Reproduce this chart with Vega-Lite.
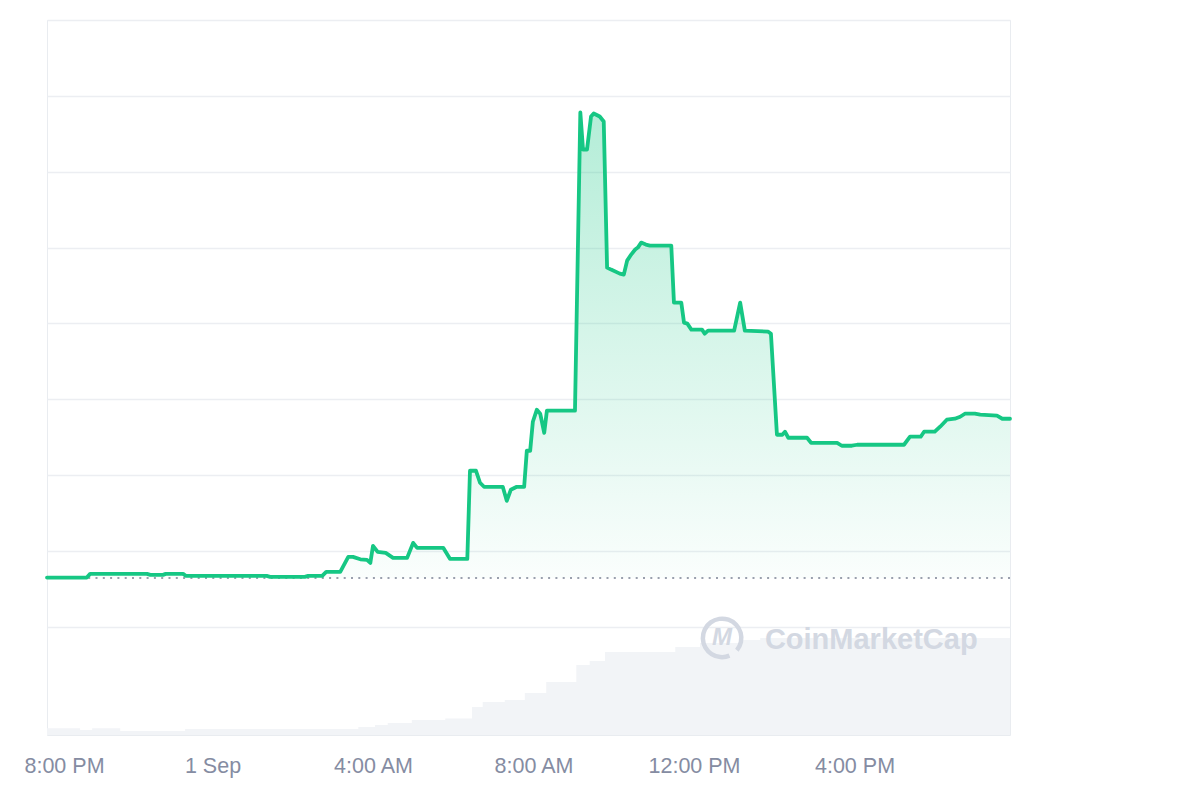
{
  "$schema": "https://vega.github.io/schema/vega-lite/v6.json",
  "width": 963,
  "height": 715,
  "autosize": {"type": "none"},
  "padding": {"left": 47, "top": 20, "right": 190, "bottom": 65},
  "background": "#ffffff",
  "config": {
    "view": {"stroke": "#e9ecf0", "strokeWidth": 1},
    "font": "Liberation Sans"
  },
  "datasets": {
    "price": [
      {"time": "2023-08-31T19:52:30Z", "price": 0.65},
      {"time": "2023-08-31T20:52:00Z", "price": 0.65},
      {"time": "2023-08-31T20:57:00Z", "price": 0.699},
      {"time": "2023-08-31T22:22:00Z", "price": 0.699},
      {"time": "2023-08-31T22:27:00Z", "price": 0.686},
      {"time": "2023-08-31T22:46:00Z", "price": 0.686},
      {"time": "2023-08-31T22:50:00Z", "price": 0.699},
      {"time": "2023-08-31T23:16:00Z", "price": 0.699},
      {"time": "2023-08-31T23:20:00Z", "price": 0.673},
      {"time": "2023-09-01T01:21:00Z", "price": 0.673},
      {"time": "2023-09-01T01:26:00Z", "price": 0.66},
      {"time": "2023-09-01T02:18:00Z", "price": 0.66},
      {"time": "2023-09-01T02:23:00Z", "price": 0.673},
      {"time": "2023-09-01T02:44:00Z", "price": 0.673},
      {"time": "2023-09-01T02:50:00Z", "price": 0.726},
      {"time": "2023-09-01T03:11:00Z", "price": 0.726},
      {"time": "2023-09-01T03:23:00Z", "price": 0.923},
      {"time": "2023-09-01T03:30:00Z", "price": 0.923},
      {"time": "2023-09-01T03:41:00Z", "price": 0.891},
      {"time": "2023-09-01T03:51:00Z", "price": 0.884},
      {"time": "2023-09-01T03:56:00Z", "price": 0.844},
      {"time": "2023-09-01T04:00:00Z", "price": 1.069},
      {"time": "2023-09-01T04:07:00Z", "price": 0.989},
      {"time": "2023-09-01T04:19:00Z", "price": 0.976},
      {"time": "2023-09-01T04:30:00Z", "price": 0.91},
      {"time": "2023-09-01T04:51:00Z", "price": 0.91},
      {"time": "2023-09-01T05:00:00Z", "price": 1.108},
      {"time": "2023-09-01T05:06:00Z", "price": 1.042},
      {"time": "2023-09-01T05:45:00Z", "price": 1.042},
      {"time": "2023-09-01T05:55:00Z", "price": 0.897},
      {"time": "2023-09-01T06:21:00Z", "price": 0.897},
      {"time": "2023-09-01T06:25:00Z", "price": 2.058},
      {"time": "2023-09-01T06:34:00Z", "price": 2.058},
      {"time": "2023-09-01T06:40:00Z", "price": 1.9},
      {"time": "2023-09-01T06:46:00Z", "price": 1.847},
      {"time": "2023-09-01T07:14:00Z", "price": 1.847},
      {"time": "2023-09-01T07:20:00Z", "price": 1.662},
      {"time": "2023-09-01T07:26:00Z", "price": 1.807},
      {"time": "2023-09-01T07:35:00Z", "price": 1.847},
      {"time": "2023-09-01T07:46:00Z", "price": 1.847},
      {"time": "2023-09-01T07:50:00Z", "price": 2.322},
      {"time": "2023-09-01T07:55:00Z", "price": 2.322},
      {"time": "2023-09-01T07:59:00Z", "price": 2.704},
      {"time": "2023-09-01T08:05:00Z", "price": 2.863},
      {"time": "2023-09-01T08:10:00Z", "price": 2.81},
      {"time": "2023-09-01T08:16:00Z", "price": 2.559},
      {"time": "2023-09-01T08:20:00Z", "price": 2.85},
      {"time": "2023-09-01T09:02:00Z", "price": 2.85},
      {"time": "2023-09-01T09:10:00Z", "price": 6.781},
      {"time": "2023-09-01T09:14:00Z", "price": 6.293},
      {"time": "2023-09-01T09:20:00Z", "price": 6.293},
      {"time": "2023-09-01T09:26:00Z", "price": 6.728},
      {"time": "2023-09-01T09:30:00Z", "price": 6.768},
      {"time": "2023-09-01T09:39:00Z", "price": 6.728},
      {"time": "2023-09-01T09:45:00Z", "price": 6.662},
      {"time": "2023-09-01T09:50:00Z", "price": 4.736},
      {"time": "2023-09-01T09:56:00Z", "price": 4.71},
      {"time": "2023-09-01T10:09:00Z", "price": 4.657},
      {"time": "2023-09-01T10:15:00Z", "price": 4.644},
      {"time": "2023-09-01T10:20:00Z", "price": 4.828},
      {"time": "2023-09-01T10:26:00Z", "price": 4.908},
      {"time": "2023-09-01T10:32:00Z", "price": 4.974},
      {"time": "2023-09-01T10:36:00Z", "price": 5.0},
      {"time": "2023-09-01T10:41:00Z", "price": 5.066},
      {"time": "2023-09-01T10:48:00Z", "price": 5.04},
      {"time": "2023-09-01T10:54:00Z", "price": 5.026},
      {"time": "2023-09-01T11:26:00Z", "price": 5.026},
      {"time": "2023-09-01T11:30:00Z", "price": 4.274},
      {"time": "2023-09-01T11:41:00Z", "price": 4.274},
      {"time": "2023-09-01T11:45:00Z", "price": 4.011},
      {"time": "2023-09-01T11:50:00Z", "price": 3.997},
      {"time": "2023-09-01T11:56:00Z", "price": 3.918},
      {"time": "2023-09-01T12:12:00Z", "price": 3.918},
      {"time": "2023-09-01T12:16:00Z", "price": 3.865},
      {"time": "2023-09-01T12:21:00Z", "price": 3.905},
      {"time": "2023-09-01T13:00:00Z", "price": 3.905},
      {"time": "2023-09-01T13:09:00Z", "price": 4.274},
      {"time": "2023-09-01T13:16:00Z", "price": 3.905},
      {"time": "2023-09-01T13:51:00Z", "price": 3.892},
      {"time": "2023-09-01T13:55:00Z", "price": 3.865},
      {"time": "2023-09-01T14:04:00Z", "price": 2.533},
      {"time": "2023-09-01T14:12:00Z", "price": 2.533},
      {"time": "2023-09-01T14:16:00Z", "price": 2.573},
      {"time": "2023-09-01T14:21:00Z", "price": 2.493},
      {"time": "2023-09-01T14:49:00Z", "price": 2.493},
      {"time": "2023-09-01T14:55:00Z", "price": 2.427},
      {"time": "2023-09-01T15:34:00Z", "price": 2.427},
      {"time": "2023-09-01T15:41:00Z", "price": 2.388},
      {"time": "2023-09-01T15:56:00Z", "price": 2.388},
      {"time": "2023-09-01T16:04:00Z", "price": 2.401},
      {"time": "2023-09-01T17:14:00Z", "price": 2.401},
      {"time": "2023-09-01T17:23:00Z", "price": 2.507},
      {"time": "2023-09-01T17:39:00Z", "price": 2.507},
      {"time": "2023-09-01T17:44:00Z", "price": 2.573},
      {"time": "2023-09-01T18:00:00Z", "price": 2.573},
      {"time": "2023-09-01T18:08:00Z", "price": 2.639},
      {"time": "2023-09-01T18:18:00Z", "price": 2.731},
      {"time": "2023-09-01T18:30:00Z", "price": 2.744},
      {"time": "2023-09-01T18:38:00Z", "price": 2.77},
      {"time": "2023-09-01T18:45:00Z", "price": 2.81},
      {"time": "2023-09-01T19:00:00Z", "price": 2.81},
      {"time": "2023-09-01T19:08:00Z", "price": 2.797},
      {"time": "2023-09-01T19:33:00Z", "price": 2.784},
      {"time": "2023-09-01T19:41:00Z", "price": 2.744},
      {"time": "2023-09-01T19:52:30Z", "price": 2.744}
    ],
    "volume": [
      {"time": "2023-08-31T19:52:30Z", "volume": 0.67},
      {"time": "2023-08-31T20:42:00Z", "volume": 0.5},
      {"time": "2023-08-31T21:00:00Z", "volume": 0.67},
      {"time": "2023-08-31T21:42:00Z", "volume": 0.4},
      {"time": "2023-08-31T23:19:00Z", "volume": 0.6},
      {"time": "2023-09-01T03:38:00Z", "volume": 0.8},
      {"time": "2023-09-01T04:03:00Z", "volume": 1.0},
      {"time": "2023-09-01T04:22:00Z", "volume": 1.2},
      {"time": "2023-09-01T04:58:00Z", "volume": 1.5},
      {"time": "2023-09-01T05:48:00Z", "volume": 1.65},
      {"time": "2023-09-01T06:28:00Z", "volume": 2.8},
      {"time": "2023-09-01T06:44:00Z", "volume": 3.3},
      {"time": "2023-09-01T07:17:00Z", "volume": 3.5},
      {"time": "2023-09-01T07:47:00Z", "volume": 4.2},
      {"time": "2023-09-01T08:19:00Z", "volume": 5.3},
      {"time": "2023-09-01T09:04:00Z", "volume": 7.0},
      {"time": "2023-09-01T09:24:00Z", "volume": 7.4},
      {"time": "2023-09-01T09:47:00Z", "volume": 8.3},
      {"time": "2023-09-01T11:32:00Z", "volume": 8.8},
      {"time": "2023-09-01T12:09:00Z", "volume": 9.2},
      {"time": "2023-09-01T13:09:00Z", "volume": 9.5},
      {"time": "2023-09-01T13:39:00Z", "volume": 9.7},
      {"time": "2023-09-01T19:52:30Z", "volume": 9.7}
    ]
  },
  "layer": [
    {
      "data": {"name": "volume"},
      "mark": {"type": "area", "interpolate": "step-after", "color": "#f2f4f7"},
      "encoding": {
        "x": {"field": "time", "type": "temporal", "scale": {"type": "utc", "domain": [1693511550000, 1693597950000]}},
        "y": {"field": "volume", "type": "quantitative", "scale": {"domain": [0, 71.5], "nice": false, "zero": true}, "axis": null}
      }
    },
    {
      "data": {"values": [{}]},
      "mark": {"type": "arc", "innerRadius": 17, "outerRadius": 21.5, "theta": 2.75, "theta2": 8.55, "color": "#d3d8e2"},
      "encoding": {
        "x": {"datum": 1693572120000, "type": "temporal", "scale": {"type": "utc", "domain": [1693511550000, 1693597950000]}},
        "y": {"datum": -0.145, "type": "quantitative", "scale": {"domain": [-1.425, 8.0], "nice": false, "zero": false}, "axis": null}
      }
    },
    {
      "data": {"values": [{}]},
      "mark": {"type": "text", "text": "M", "font": "Liberation Sans", "fontSize": 24, "fontStyle": "italic", "fontWeight": "bold", "color": "#d3d8e2", "align": "center", "baseline": "middle"},
      "encoding": {
        "x": {"datum": 1693572120000, "type": "temporal", "scale": {"type": "utc", "domain": [1693511550000, 1693597950000]}},
        "y": {"datum": -0.145, "type": "quantitative", "scale": {"domain": [-1.425, 8.0], "nice": false, "zero": false}, "axis": null}
      }
    },
    {
      "data": {"values": [{}]},
      "mark": {"type": "text", "text": "CoinMarketCap", "font": "Liberation Sans", "fontSize": 29, "fontWeight": "bold", "color": "#d3d8e2", "align": "left", "baseline": "middle"},
      "encoding": {
        "x": {"datum": 1693575960000, "type": "temporal", "scale": {"type": "utc", "domain": [1693511550000, 1693597950000]}},
        "y": {"datum": -0.172, "type": "quantitative", "scale": {"domain": [-1.425, 8.0], "nice": false, "zero": false}, "axis": null}
      }
    },
    {
      "data": {"name": "price"},
      "mark": {
        "type": "area",
        "interpolate": "linear",
        "color": {
          "gradient": "linear", "x1": 0, "y1": 0, "x2": 0, "y2": 1,
          "stops": [
            {"offset": 0, "color": "rgba(22,199,132,0.32)"},
            {"offset": 1, "color": "rgba(22,199,132,0.02)"}
          ]
        }
      },
      "encoding": {
        "x": {"field": "time", "type": "temporal", "scale": {"type": "utc", "domain": [1693511550000, 1693597950000]}},
        "y": {"field": "price", "type": "quantitative", "scale": {"domain": [-1.425, 8.0], "nice": false, "zero": false}, "axis": null},
        "y2": {"datum": 0.646}
      }
    },
    {
      "data": {"values": [{}]},
      "mark": {"type": "rule", "strokeDash": [2, 5.3], "strokeWidth": 2, "color": "#9aa0ad"},
      "encoding": {
        "y": {"datum": 0.646, "type": "quantitative", "scale": {"domain": [-1.425, 8.0], "nice": false, "zero": false}, "axis": null}
      }
    },
    {
      "data": {"name": "price"},
      "mark": {"type": "line", "color": "#16c784", "strokeWidth": 3.8, "strokeJoin": "round", "strokeCap": "round"},
      "encoding": {
        "x": {
          "field": "time", "type": "temporal",
          "scale": {"type": "utc", "domain": [1693511550000, 1693597950000]},
          "axis": {
            "title": null,
            "values": [1693512000000, 1693526400000, 1693540800000, 1693555200000, 1693569600000, 1693584000000],
            "labelExpr": "utchours(datum.value) == 0 ? utcFormat(datum.value, '%-d %b') : utcFormat(datum.value, '%-I:%M %p')",
            "domain": false,
            "ticks": false,
            "grid": false,
            "labelFont": "Liberation Sans",
            "labelFontSize": 21.5,
            "labelColor": "#858ca2",
            "labelPadding": 20,
            "labelOffset": {"condition": {"test": "datum.index == 0", "value": 12}, "value": 0},
            "labelOverlap": false,
            "labelFlush": false
          }
        },
        "y": {
          "field": "price", "type": "quantitative",
          "scale": {"domain": [-1.425, 8.0], "nice": false, "zero": false},
          "axis": {
            "title": null,
            "values": [0, 1, 2, 3, 4, 5, 6, 7, 8],
            "labels": false,
            "ticks": false,
            "domain": false,
            "grid": true,
            "gridColor": "#eceef2",
            "gridWidth": 1.5
          }
        }
      }
    }
  ],
  "resolve": {"scale": {"y": "independent"}}
}
